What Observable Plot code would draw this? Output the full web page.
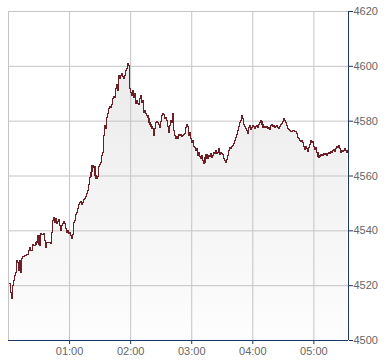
<!DOCTYPE html>
<html>
<head>
<meta charset="utf-8">
<script src="https://cdn.jsdelivr.net/npm/d3@7"></script>
<script src="https://cdn.jsdelivr.net/npm/@observablehq/plot@0.6"></script>
<style>
  html, body { margin: 0; padding: 0; background: #fff; }
  #chart svg { display: block; }
</style>
</head>
<body>
<div id="chart"></div>
<script>
// ---- data (one reading per minute, starting at firstTime) ----
const firstTime = "00:01";
const stepMinutes = 1;
const prices = [
  4520.8, 4517.5, 4515.3, 4520.1, 4521.9, 4523.7, 4524.8, 4529.2, 4528.5, 4525.5, 4529.2, 4524.8, 4529.9, 4530.6, 4530.6, 4531.0, 4531.0, 4531.4, 4531.4, 4532.8, 4533.9, 4532.8, 4532.8, 4535.0, 4534.7, 4534.7, 4535.7, 4536.1,
  4538.3, 4534.7, 4539.0, 4538.6, 4538.6, 4539.0, 4536.5, 4533.9, 4535.7, 4535.7, 4535.7, 4535.7, 4535.4, 4539.4, 4543.8, 4544.9, 4543.1, 4544.5, 4542.7, 4543.4, 4544.1, 4542.0, 4540.1, 4542.0, 4542.7, 4543.4, 4542.7, 4540.9, 4539.4, 4540.1, 4539.0, 4539.4, 4538.3, 4537.2, 4538.6, 4543.1, 4543.8, 4546.0, 4546.7, 4548.2, 4549.6, 4550.3, 4550.7, 4549.6, 4550.3, 4551.4, 4551.8, 4552.5, 4553.6, 4554.7, 4556.9, 4559.5, 4561.3, 4563.8, 4563.1, 4563.5, 4560.2, 4559.1, 4559.8, 4563.5, 4564.2,
  4564.9, 4567.5, 4568.6, 4574.8, 4578.4, 4577.3, 4581.3, 4582.8, 4584.6, 4585.4, 4585.0, 4586.1, 4588.3, 4589.0, 4588.6, 4591.9, 4593.4, 4591.2, 4596.7, 4595.6, 4596.7, 4597.4, 4596.3, 4595.6, 4596.7, 4598.5, 4599.2, 4601.0, 4600.3, 4591.9, 4590.5, 4589.4, 4591.2, 4588.6, 4590.1, 4586.4, 4587.5, 4586.4, 4586.1, 4588.3, 4589.4, 4586.8, 4587.5, 4583.2, 4583.9, 4582.8, 4582.1, 4581.3, 4579.5, 4578.8, 4578.1, 4577.3, 4574.8, 4577.3, 4579.5, 4579.9, 4579.5, 4578.8, 4577.7, 4579.9, 4582.1,
  4582.8, 4582.4, 4581.0, 4581.3, 4580.2, 4578.1, 4575.9, 4578.4, 4580.2, 4579.5, 4582.8, 4576.6, 4574.8, 4573.7, 4574.4, 4573.7, 4575.2, 4574.8, 4575.2, 4574.4, 4574.8, 4575.2, 4575.5, 4577.7, 4578.8, 4578.1, 4574.8, 4575.9, 4573.7, 4572.2, 4573.0, 4570.8, 4570.4, 4569.3, 4570.0, 4567.5, 4568.6, 4567.1, 4566.4, 4567.5, 4565.7, 4564.6, 4566.8, 4567.8, 4566.4, 4567.5, 4567.1, 4568.2, 4566.8, 4567.5, 4568.6, 4568.2, 4569.3, 4568.2, 4568.6, 4570.0, 4567.8, 4568.6, 4568.2,
  4567.8, 4566.4, 4565.7, 4565.0, 4566.0, 4567.5, 4569.3, 4570.4, 4570.0, 4570.8, 4571.1, 4571.9, 4573.0, 4574.0, 4575.2, 4576.6, 4578.1, 4579.5, 4580.2, 4582.1, 4581.0, 4578.8, 4578.1, 4577.3, 4576.6, 4575.5, 4577.7, 4578.4, 4577.0, 4577.7, 4578.4, 4578.1, 4577.3, 4578.1, 4578.4, 4577.7, 4578.8, 4579.5, 4580.2, 4578.8, 4577.7, 4578.1, 4577.7, 4578.1, 4577.3, 4577.7, 4577.0, 4578.4, 4578.8, 4578.1, 4578.4, 4577.7, 4578.1, 4578.4, 4577.7, 4577.3, 4578.1, 4578.8, 4579.2,
  4579.9, 4581.0, 4580.2, 4579.5, 4578.4, 4577.3, 4577.0, 4576.6, 4576.2, 4576.2, 4576.6, 4576.6, 4576.2, 4576.2, 4575.5, 4574.0, 4573.7, 4573.0, 4572.6, 4573.0, 4572.2, 4570.8, 4569.7, 4570.8, 4570.0, 4568.9, 4570.4, 4571.5, 4573.0, 4572.2, 4572.6, 4570.8, 4569.7, 4570.4, 4568.6, 4567.1, 4566.8, 4567.5, 4567.8, 4567.5, 4568.2, 4567.8, 4568.2, 4567.5, 4568.2, 4568.6, 4568.2, 4568.9, 4568.6, 4569.3, 4569.7, 4568.9, 4570.0, 4570.8, 4570.4, 4571.1, 4570.0, 4568.6, 4569.3,
  4568.9, 4569.3, 4570.0, 4569.3, 4568.6, 4569.3
];
const xDomain = ["00:00", "05:34"];
const xTickLabels = ["01:00", "02:00", "03:00", "04:00", "05:00"];
const yTicks = [4500, 4520, 4540, 4560, 4580, 4600, 4620];

// ---- build table ----
const parseT = d3.utcParse("%H:%M");
const t0 = parseT(firstTime);
const data = prices.map((v, i) => ({ t: d3.utcMinute.offset(t0, i * stepMinutes), v }));
const xd = xDomain.map(parseT);
const xt = xTickLabels.map(parseT);

const navy = "#1d3867";
const gridC = "#c4c4c4";
const lineC = "#6b2027";

const chart = Plot.plot({
  width: 390,
  height: 364,
  marginLeft: 8,
  marginRight: 42,
  marginTop: 11,
  marginBottom: 24,
  style: { fontFamily: "'Liberation Sans', Arial, sans-serif", fontSize: "11px", background: "#fff" },
  x: { type: "utc", domain: xd },
  y: { domain: [yTicks[0], yTicks[yTicks.length - 1]] },
  marks: [
    Plot.areaY(data, { x: "t", y1: yTicks[0], y2: "v", curve: "step-after", fill: "url(#areaGrad)" }),
    Plot.gridX(xt, { stroke: gridC, strokeOpacity: 1 }),
    Plot.gridY(yTicks, { stroke: gridC, strokeOpacity: 1 }),
    Plot.ruleX([xd[0]], { stroke: gridC }),
    Plot.lineY(data, { x: "t", y: "v", curve: "step-after", stroke: lineC, strokeWidth: 1.1, shapeRendering: "crispEdges" }),
    Plot.ruleY([yTicks[0]], { stroke: navy }),
    Plot.ruleX([xd[1]], { stroke: navy }),
    Plot.axisX(xt, { tickFormat: d3.utcFormat("%H:%M"), tickSize: 4, tickPadding: 3, stroke: navy, fill: "#666", label: null }),
    Plot.axisY(yTicks, { anchor: "right", tickSize: 4, tickPadding: 1, stroke: navy, fill: "#666", label: null, tickFormat: d => String(d) })
  ]
});

const defs = d3.select(chart).insert("defs", ":first-child");
const g = defs.append("linearGradient")
  .attr("id", "areaGrad")
  .attr("gradientUnits", "userSpaceOnUse")
  .attr("x1", 0).attr("y1", 11).attr("x2", 0).attr("y2", 340);
g.append("stop").attr("offset", "0%").attr("stop-color", "#e7e7e7");
g.append("stop").attr("offset", "100%").attr("stop-color", "#fdfdfd");

document.getElementById("chart").appendChild(chart);
</script>
</body>
</html>
